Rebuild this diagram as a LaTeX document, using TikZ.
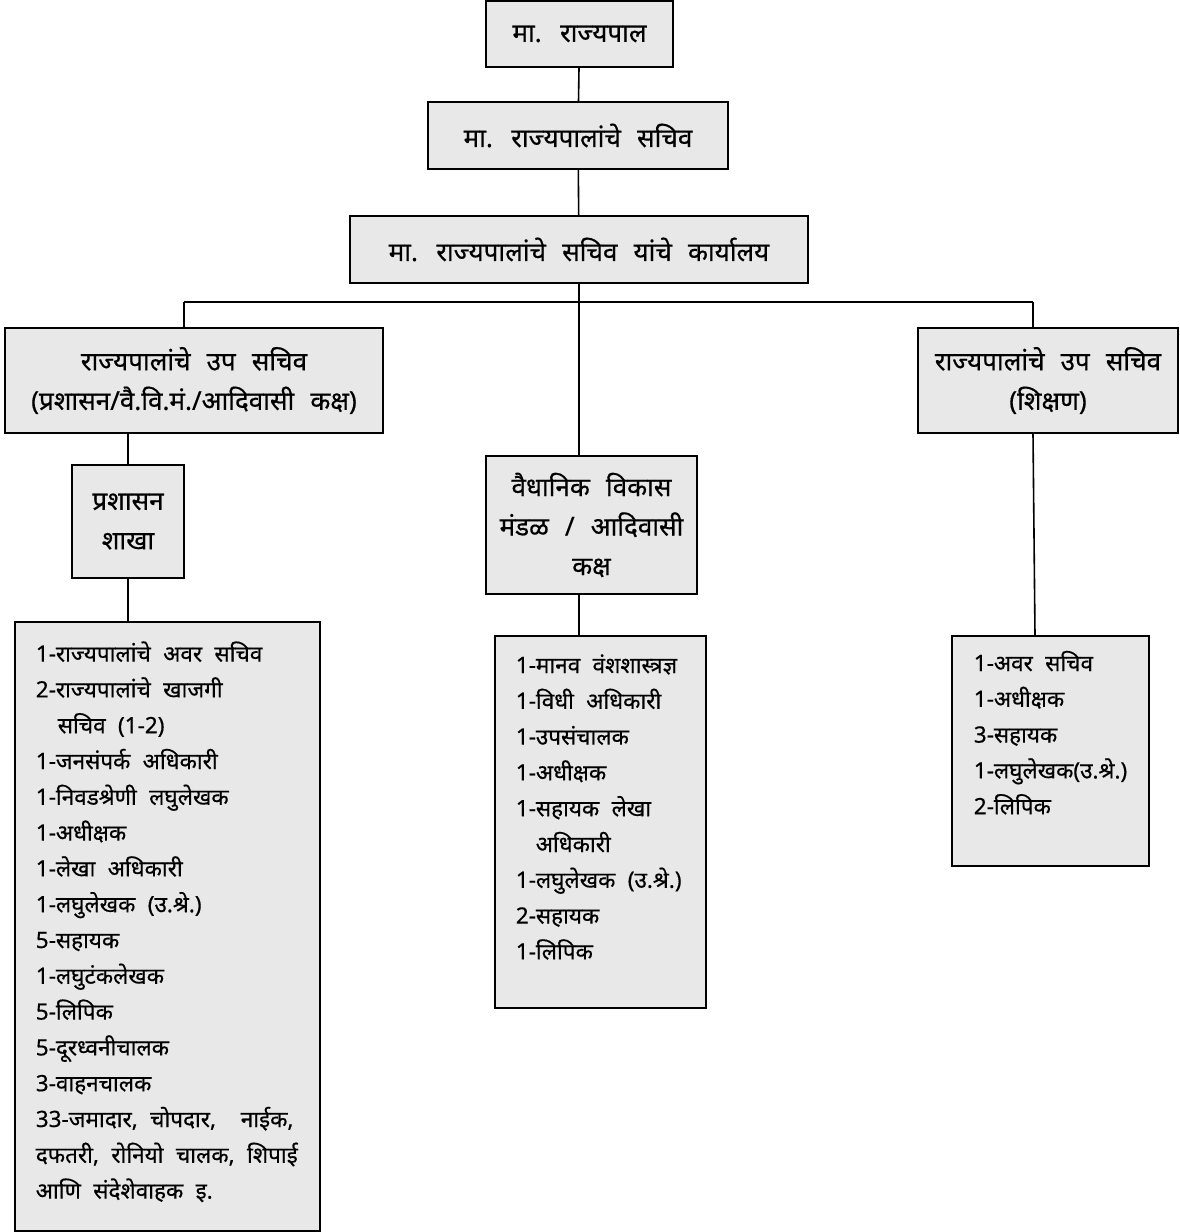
\documentclass[tikz,border=0pt]{standalone}
\usepackage{fontspec}
\setmainfont[Script=Devanagari,FakeBold=0.5]{Noto Sans}
\usetikzlibrary{positioning,calc}
\newcommand\boxfont{\fontsize{26}{39.5}\selectfont\spaceskip=0.62em\relax}
\newcommand\listfont{\fontsize{22.5}{35.8}\selectfont}

\begin{document}
\begin{tikzpicture}[x=1pt,y=-1pt,line width=1.6pt]
  \tikzstyle{every node}=[font=\boxfont]
  \tikzstyle{post}=[draw,fill={rgb:black,1;white,10},inner sep=0pt,align=center]
  \tikzstyle{staff}=[anchor=base west,inner sep=0pt,align=left,font=\listfont,
    execute at begin node={\spaceskip=0.55em\relax}]

  \useasboundingbox (0,0) rectangle (1179,1232);

  % top of the chart
  \node[post,minimum width=187,minimum height=66] (gov) at (579.5,34) {मा. राज्यपाल};
  \node[post,minimum width=300,minimum height=67] (sec) at (578,135.5) {मा. राज्यपालांचे सचिव};
  \node[post,minimum width=458,minimum height=67] (office) at (579,249.5) {मा. राज्यपालांचे सचिव यांचे कार्यालय};

  % second level
  \node[post,minimum width=378,minimum height=105] (dsadm) at (194,380.5)
       {राज्यपालांचे उप सचिव\\(प्रशासन/वै.वि.मं./आदिवासी कक्ष)};
  \node[post,minimum width=260,minimum height=105] (dsedu) at (1048,380.5)
       {राज्यपालांचे उप सचिव\\(शिक्षण)};
  \node[post,minimum width=112,minimum height=113] (branch) at (128,521.5) {प्रशासन\\शाखा};
  \node[post,minimum width=211,minimum height=138] (vvm) at (591.5,525)
       {वैधानिक विकास\\मंडळ / आदिवासी\\कक्ष};

  % staff boxes
  \node[post,minimum width=305,minimum height=609] (staffadm) at (167.5,926.5) {};
  \node[post,minimum width=211,minimum height=372] (staffvvm) at (600.5,822) {};
  \node[post,minimum width=197,minimum height=230] (staffedu) at (1050.5,751) {};

  \node[staff,text width=283] (listadm) at (35,661.6) {%
    1-राज्यपालांचे अवर सचिव\\
    2-राज्यपालांचे खाजगी\\
    \hspace*{22pt}सचिव (1-2)\\
    1-जनसंपर्क अधिकारी\\
    1-निवडश्रेणी लघुलेखक\\
    1-अधीक्षक\\
    1-लेखा अधिकारी\\
    1-लघुलेखक (उ.श्रे.)\\
    5-सहायक\\
    1-लघुटंकलेखक\\
    5-लिपिक\\
    5-दूरध्वनीचालक\\
    3-वाहनचालक\\
    33-जमादार, चोपदार, \ नाईक,\\
    दफतरी, रोनियो चालक, शिपाई\\
    आणि संदेशेवाहक इ.};
  \node[staff,text width=188] (listvvm) at (515,673) {%
    1-मानव वंशशास्त्रज्ञ\\
    1-विधी अधिकारी\\
    1-उपसंचालक\\
    1-अधीक्षक\\
    1-सहायक लेखा\\
    \hspace*{20pt}अधिकारी\\
    1-लघुलेखक (उ.श्रे.)\\
    2-सहायक\\
    1-लिपिक};
  \node[staff,text width=175] (listedu) at (973,671) {%
    1-अवर सचिव\\
    1-अधीक्षक\\
    3-सहायक\\
    1-लघुलेखक(उ.श्रे.)\\
    2-लिपिक};

  % connectors
  \coordinate (busL) at (184,302);
  \coordinate (busR) at (1033,302);
  \coordinate (midx) at (579,302);

  \draw (gov) -- (sec);
  \draw (sec) -- (office);
  \draw (office.south -| midx) -- (midx |- vvm.north);
  \draw (busL) -- (busR);
  \draw (busL) -- (busL |- dsadm.north);
  \draw (busR) -- (busR |- dsedu.north);
  \draw (branch.north |- dsadm.south) -- (branch.north);
  \draw (branch.south) -- (branch.south |- staffadm.north);
  \draw (midx |- vvm.south) -- (midx |- staffvvm.north);
  \draw (busR |- dsedu.south) -- ([xshift=2]busR |- staffedu.north);
\end{tikzpicture}
\end{document}
